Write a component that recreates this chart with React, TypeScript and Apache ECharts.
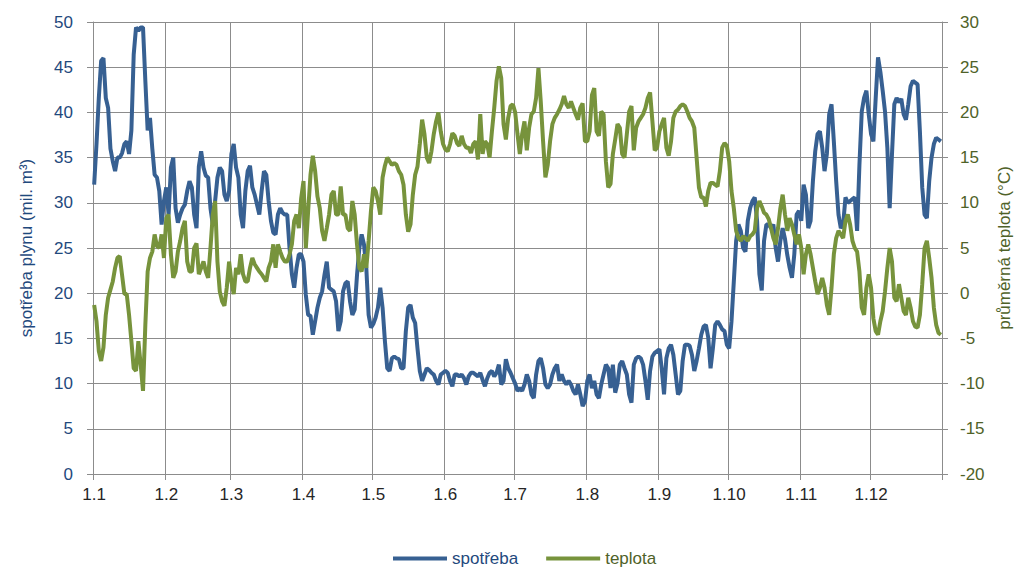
import React, { useEffect, useRef } from "react";
import * as echarts from "echarts";

const monthLengths = [31, 28, 31, 30, 31, 30, 31, 31, 30, 31, 30, 31];
const monthLabels = ["1.1", "1.2", "1.3", "1.4", "1.5", "1.6", "1.7", "1.8", "1.9", "1.10", "1.11", "1.12"];

// daily gas consumption (mil. m3)
const spotreba = [
  32.0, 36.5, 41.6, 45.7, 46.0, 41.6, 40.5, 36.0, 34.6, 33.5,
  35.0, 35.0, 35.5, 36.5, 36.8, 35.4, 38.0, 46.4, 49.4, 49.0,
  49.4, 49.4, 43.5, 38.0, 39.4, 36.0, 33.1, 32.8, 31.3, 27.6,
  30.2, 31.7, 28.7, 33.9, 35.0, 29.4, 27.8, 28.7, 29.4, 29.8,
  31.3, 32.4, 31.7, 28.7, 27.2, 34.0, 35.7, 33.9, 33.0, 32.8,
  29.4, 27.6, 30.2, 32.8, 33.9, 33.5, 30.9, 30.2, 31.3, 35.4,
  36.5, 33.9, 32.8, 28.7, 27.2, 31.3, 33.5, 34.1, 31.7, 30.9,
  29.8, 28.7, 31.3, 33.5, 33.1, 30.2, 28.0, 26.7, 26.5, 28.7,
  29.4, 28.9, 28.7, 28.7, 25.0, 22.1, 20.6, 22.8, 24.3, 24.3,
  23.5, 19.8, 17.6, 17.5, 15.4, 16.9, 18.4, 19.5, 20.2, 22.0,
  23.5, 20.6, 20.4, 20.2, 19.1, 15.8, 16.9, 20.2, 21.1, 21.3,
  19.1, 17.6, 18.2, 22.0, 25.0, 26.5, 25.4, 22.8, 17.6, 16.2,
  16.6, 17.3, 18.4, 20.6, 18.4, 14.7, 11.7, 11.4, 12.8, 13.0,
  12.8, 12.7, 11.7, 11.7, 15.8, 18.4, 18.7, 17.3, 16.7, 13.9,
  11.4, 10.3, 11.0, 11.7, 11.5, 11.2, 11.0, 10.3, 9.9, 11.0,
  11.2, 11.4, 11.2, 10.3, 9.7, 11.0, 11.0, 10.8, 11.0, 10.6,
  9.9, 10.8, 11.2, 11.2, 11.0, 10.8, 11.2, 10.4, 9.7, 10.6,
  11.2, 11.4, 10.8, 11.2, 12.1, 9.9, 10.3, 12.7, 11.7, 11.2,
  10.6, 10.0, 9.2, 9.5, 9.2, 9.9, 11.0, 10.3, 8.8, 8.4,
  11.0, 12.5, 12.8, 11.7, 9.9, 9.5, 9.9, 11.0, 11.7, 12.1,
  10.3, 11.0, 10.3, 9.9, 10.3, 9.9, 9.2, 8.8, 9.9, 8.8,
  7.5, 8.0, 10.3, 11.0, 9.5, 10.3, 8.8, 8.4, 9.9, 11.0,
  12.1, 11.7, 9.5, 12.1, 9.0, 10.0, 12.1, 12.5, 11.7, 11.0,
  8.8, 7.9, 12.1, 12.8, 13.0, 12.8, 12.1, 10.3, 8.2, 11.4,
  13.0, 13.4, 13.6, 13.8, 11.7, 8.8, 12.8, 13.9, 14.3, 13.2,
  11.0, 8.8, 9.2, 12.5, 14.3, 14.3, 14.2, 13.2, 11.4, 12.5,
  13.9, 15.4, 16.3, 16.5, 15.1, 11.7, 13.9, 16.5, 16.9, 16.5,
  16.0, 15.8, 14.3, 13.9, 16.9, 21.3, 25.8, 27.6, 26.9, 25.0,
  24.6, 28.0, 29.4, 30.2, 30.6, 28.0, 22.1, 20.3, 25.8, 27.6,
  27.6, 27.2, 27.6, 25.0, 23.5, 25.8, 27.2, 26.0, 24.2, 22.8,
  21.7, 24.3, 28.7, 29.1, 28.0, 32.0, 30.9, 27.2, 28.0, 32.4,
  35.7, 37.6, 37.9, 36.1, 33.5, 35.4, 39.8, 40.9, 36.8, 32.4,
  28.7, 27.2, 27.6, 30.6, 30.0, 30.2, 30.4, 30.6, 26.9, 34.2,
  40.1, 41.6, 42.4, 39.8, 37.6, 36.8, 41.6, 46.1, 44.5, 42.4,
  40.1, 36.1, 29.4, 35.4, 40.9, 41.6, 41.1, 41.5, 39.8, 39.2,
  40.9, 42.9, 43.5, 43.3, 43.1, 37.9, 31.7, 28.7, 28.3, 32.4,
  35.0, 36.5, 37.2, 37.0, 36.8
];

// daily mean temperature (°C)
const teplota = [
  -1.3, -3.1, -6.4, -7.5, -6.0, -2.4, -0.5, 0.4, 1.3, 2.8,
  3.9, 4.1, 2.0, -0.1, -0.1, -2.4, -5.3, -8.3, -8.6, -5.3,
  -7.9, -10.8, -3.5, 2.4, 3.9, 4.6, 6.5, 5.2, 5.0, 6.5,
  3.9, 8.3, 8.7, 4.3, 1.7, 2.4, 4.6, 5.8, 7.2, 8.0,
  3.5, 2.4, 2.4, 5.0, 5.5, 2.1, 2.8, 3.5, 2.4, 1.7,
  5.0, 8.7, 10.2, 3.5, 0.2, -0.9, -1.4, 0.6, 3.5, 1.3,
  -0.1, 2.8, 2.1, 4.3, 2.1, 1.3, 1.3, 2.8, 3.9, 3.2,
  2.8, 2.4, 2.1, 1.7, 1.3, 2.8, 3.5, 5.4, 2.8, 5.4,
  4.6, 3.9, 3.5, 3.5, 4.3, 5.4, 8.0, 8.7, 7.2, 10.5,
  12.4, 5.0, 9.1, 13.1, 15.2, 13.5, 10.7, 9.4, 6.9, 5.8,
  7.2, 8.7, 10.9, 11.3, 8.7, 8.7, 11.8, 8.7, 8.7, 7.2,
  6.9, 10.2, 8.7, 5.4, 2.8, 2.4, 4.3, 2.8, 5.8, 9.1,
  11.7, 11.3, 10.2, 8.7, 12.8, 14.1, 15.0, 14.6, 14.2, 14.4,
  14.2, 13.5, 13.1, 12.0, 8.7, 6.8, 7.6, 10.9, 13.1, 14.0,
  16.5, 19.2, 17.6, 15.0, 14.4, 15.7, 17.6, 19.0, 20.0, 17.9,
  16.5, 15.9, 15.7, 16.5, 17.7, 17.4, 16.6, 16.3, 17.4, 16.5,
  16.1, 16.1, 15.5, 16.5, 16.8, 14.8, 19.8, 15.4, 16.8, 16.5,
  15.0, 17.9, 20.5, 23.5, 25.1, 23.8, 18.7, 17.0, 19.4, 20.7,
  20.9, 20.0, 17.6, 15.4, 17.6, 19.0, 15.8, 18.3, 19.8, 20.1,
  21.6, 24.9, 21.2, 16.8, 12.8, 14.2, 16.8, 18.7, 19.4, 19.8,
  20.3, 20.9, 21.8, 20.9, 20.5, 21.2, 20.5, 19.8, 19.2, 20.5,
  21.0, 16.8, 16.8, 17.9, 21.9, 22.7, 17.9, 17.4, 20.1, 19.8,
  14.6, 11.7, 12.1, 15.4, 17.0, 18.7, 18.3, 15.4, 15.0, 17.6,
  20.1, 20.7, 15.8, 18.3, 19.0, 19.4, 19.8, 20.5, 21.6, 22.2,
  19.0, 15.8, 16.1, 17.9, 18.7, 19.4, 16.1, 15.2, 16.8, 19.4,
  20.1, 20.3, 20.7, 20.9, 20.7, 20.1, 19.4, 19.0, 18.3, 15.0,
  11.7, 10.6, 10.6, 9.6, 11.3, 12.2, 12.2, 12.0, 11.8, 13.5,
  16.1, 16.6, 16.3, 14.6, 11.3, 9.4, 6.9, 6.1, 5.8, 6.3,
  6.1, 5.8, 6.3, 6.5, 6.9, 9.4, 10.2, 9.6, 8.9, 8.7,
  8.2, 7.2, 6.1, 5.4, 7.2, 9.4, 10.9, 8.7, 6.9, 8.3,
  7.6, 6.5, 5.4, 6.5, 5.0, 2.1, 4.3, 5.4, 4.3, 2.8,
  1.3, -0.1, 0.6, 1.7, 0.6, -1.3, -2.4, 0.6, 4.3, 6.1,
  6.9, 6.5, 6.1, 8.0, 8.7, 7.6, 5.8, 5.0, 4.6, 2.4,
  -1.6, -2.4, 0.6, 2.1, 0.6, -2.8, -4.2, -4.6, -3.1, -2.0,
  0.2, 2.8, 5.0, 3.5, -0.5, -0.9, 1.0, -0.5, -2.0, -2.4,
  -0.5, -1.6, -3.1, -3.7, -3.8, -2.4, 1.0, 5.0, 5.8, 3.9,
  1.7, -1.6, -3.5, -4.4, -4.6
];

const BLUE = "#376092";
const GREEN = "#77933C";
const BLUE_TEXT = "#1F497D";
const GREEN_TEXT = "#4F6228";
const GRID = "#8c8c8c";
const FONT = "'Liberation Sans', Arial, sans-serif";

export default function App() {
  const ref = useRef<HTMLDivElement>(null);

  useEffect(() => {
    if (!ref.current) return;
    const chart = echarts.init(ref.current, null, { renderer: "svg" });

    const days: string[] = [];
    const startLabel: Record<number, string> = {};
    monthLengths.forEach((len, m) => {
      startLabel[days.length] = monthLabels[m];
      for (let d = 1; d <= len; d++) days.push(`${d}.${m + 1}`);
    });
    const isStart = (i: number) => startLabel[i] !== undefined;

    chart.setOption({
      animation: false,
      textStyle: { fontFamily: FONT },
      grid: {
        left: 93,
        right: 75,
        top: 22,
        bottom: 97,
        containLabel: false,
        outerBoundsMode: "none",
      },
      legend: {
        left: 393,
        top: 550,
        padding: 0,
        icon: "rect",
        itemWidth: 54,
        itemHeight: 4,
        itemGap: 28,
        textStyle: { fontSize: 17, fontFamily: FONT },
        data: [
          { name: "spotřeba", textStyle: { color: BLUE_TEXT } },
          { name: "teplota", textStyle: { color: GREEN_TEXT } },
        ],
      },
      xAxis: {
        type: "category",
        data: days,
        boundaryGap: true,
        axisLine: { show: true, lineStyle: { color: GRID, width: 1 } },
        axisTick: {
          show: true,
          interval: (i: number) => isStart(i),
          length: 6,
          lineStyle: { color: GRID },
        },
        axisLabel: {
          interval: (i: number) => isStart(i),
          formatter: (_v: string, i: number) => startLabel[i] ?? "",
          color: "#262626",
          fontSize: 17,
          fontFamily: FONT,
          margin: 12,
        },
        splitLine: {
          show: true,
          interval: (i: number) => isStart(i),
          lineStyle: { color: GRID, width: 1 },
        },
      },
      yAxis: [
        {
          type: "value",
          position: "left",
          min: 0,
          max: 50,
          interval: 5,
          name: "spotřeba plynu (mil. m³)",
          nameLocation: "middle",
          nameRotate: 90,
          nameGap: 58,
          nameTextStyle: { color: BLUE_TEXT, fontSize: 17, fontFamily: FONT },
          axisLine: { show: true, lineStyle: { color: GRID } },
          axisTick: { show: true, length: 6, lineStyle: { color: GRID } },
          axisLabel: { color: BLUE_TEXT, fontSize: 17, fontFamily: FONT, margin: 20 },
          splitLine: { show: true, lineStyle: { color: GRID, width: 1 } },
        },
        {
          type: "value",
          position: "right",
          min: -20,
          max: 30,
          interval: 5,
          name: "průměrná teplota (°C)",
          nameLocation: "middle",
          nameRotate: 90,
          nameGap: 54,
          nameTextStyle: { color: GREEN_TEXT, fontSize: 17, fontFamily: FONT },
          axisLine: { show: true, lineStyle: { color: GRID } },
          axisTick: { show: true, length: 6, lineStyle: { color: GRID } },
          axisLabel: { color: GREEN_TEXT, fontSize: 17, fontFamily: FONT, margin: 18 },
          splitLine: { show: false },
        },
      ],
      series: [
        {
          name: "spotřeba",
          type: "line",
          yAxisIndex: 0,
          data: spotreba,
          symbol: "none",
          lineStyle: { color: BLUE, width: 4 },
          itemStyle: { color: BLUE },
        },
        {
          name: "teplota",
          type: "line",
          yAxisIndex: 1,
          data: teplota,
          symbol: "none",
          lineStyle: { color: GREEN, width: 4 },
          itemStyle: { color: GREEN },
        },
      ],
    });

    return () => chart.dispose();
  }, []);

  return (
    <div
      ref={ref}
      style={{ position: "fixed", left: 0, top: 0, width: 1017, height: 571, background: "#fff" }}
    />
  );
}
